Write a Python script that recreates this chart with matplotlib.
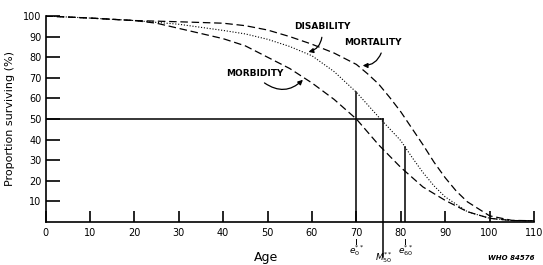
import matplotlib.pyplot as plt
from matplotlib.lines import Line2D
from matplotlib.transforms import blended_transform_factory

# Survival curves (age in years, % surviving)
ages_mort = [0, 10, 20, 30, 40, 45, 50, 55, 60, 65, 70, 72.5, 75, 77.5, 80, 82.5, 85, 87.5, 90, 92.5, 95, 100, 105, 110]
mortality = [100, 99, 97.8, 97.2, 96.5, 95.3, 93.2, 90, 86.3, 82, 76.5, 72, 67, 60.5, 53.5, 45.5, 37.5, 29, 21.5, 15, 9.8, 3, 0.8, 0.6]

ages_dis = [0, 10, 20, 30, 40, 45, 50, 55, 60, 65, 70, 75, 80, 82.5, 85, 87.5, 90, 95, 100, 105, 110]
disability = [100, 99, 97.8, 96, 93, 91.3, 88.7, 85.2, 80.7, 73, 63, 51, 39.5, 31.5, 24, 17.5, 12.2, 5, 1.8, 0.7, 0.6]

ages_morb = [0, 10, 20, 25, 30, 35, 40, 45, 50, 55, 60, 65, 70, 75, 80, 85, 90, 95, 100, 105, 110]
morbidity = [100, 99, 97.8, 96.5, 94, 91.5, 89, 85.5, 80, 74.5, 67.5, 59.5, 50, 37.5, 26.5, 17, 10.5, 5, 1.8, 0.7, 0.6]

# Reference markers
e0_age, e0_top = 70, 63
m50_age, m50_level = 76, 50
e60_age, e60_top = 81, 36.5

xticks = list(range(0, 111, 10))
yticks = list(range(10, 101, 10))

fig = plt.figure(figsize=(5.43, 2.65), dpi=100)
ax = fig.add_axes([45.5 / 543, 43 / 265, 488.5 / 543, 206 / 265])

ax.plot(ages_mort, mortality, color="black", lw=0.9, dashes=(6, 3))
ax.plot(ages_dis, disability, color="black", lw=0.8, dashes=(1, 1.6))
ax.plot(ages_morb, morbidity, color="black", lw=0.9, dashes=(6, 3))

# Vertical and horizontal marker lines
ax.plot([e0_age, e0_age], [0, e0_top], color="black", lw=1.1)
ax.plot([e60_age, e60_age], [0, e60_top], color="black", lw=1.1)
ax.plot([0, m50_age], [m50_level, m50_level], color="black", lw=1.1)
ax.plot([m50_age, m50_age], [-17, m50_level], color="black", lw=1.1, clip_on=False)

ax.set_xlim(0, 110)
ax.set_ylim(0, 100)
for s in ["top", "right"]:
    ax.spines[s].set_visible(False)
ax.spines["left"].set_linewidth(1.2)
ax.spines["bottom"].set_linewidth(1.2)

ax.set_xticks(xticks)
ax.set_yticks(yticks)
ax.tick_params(axis="x", direction="in", length=8, width=1.2, labelsize=7, pad=4)
ax.tick_params(axis="y", direction="in", length=10, width=1.2, labelsize=7, pad=3)
ax.set_ylabel("Proportion surviving (%)", fontsize=8, labelpad=6)

# Curve labels with curved arrows
arrow = dict(arrowstyle="-|>", color="black", lw=0.9, mutation_scale=7)
ax.text(62.4, 95, "DISABILITY", fontsize=6.5, fontweight="bold", ha="center", va="center")
ax.annotate("", xy=(58.6, 82.3), xytext=(62.3, 91),
            arrowprops=dict(arrow, connectionstyle="arc3,rad=-0.4"))
ax.text(73.8, 87, "MORTALITY", fontsize=6.5, fontweight="bold", ha="center", va="center")
ax.annotate("", xy=(70.8, 76), xytext=(75.8, 83.3),
            arrowprops=dict(arrow, connectionstyle="arc3,rad=-0.4"))
ax.text(47.1, 72.3, "MORBIDITY", fontsize=6.5, fontweight="bold", ha="center", va="center")
ax.annotate("", xy=(58.4, 70), xytext=(48.8, 68.3),
            arrowprops=dict(arrow, connectionstyle="arc3,rad=0.45"))

# Labels below the axis
tr = blended_transform_factory(ax.transData, fig.transFigure)
for age, lab in [(e0_age, r"$e_0^{**}$"), (e60_age, r"$e_{60}^{**}$")]:
    ax.add_line(Line2D([age, age], [21 / 265, 26 / 265], transform=tr, color="black",
                       lw=0.7, clip_on=False))
    ax.text(age, 14 / 265, lab, transform=tr, fontsize=6.5, ha="center", va="center")
ax.text(m50_age + 0.3, 7 / 265, r"$M_{50}^{**}$", transform=tr, fontsize=6.5,
        ha="center", va="center")

fig.text(266 / 543, 7 / 265, "Age", fontsize=9, ha="center", va="center")
fig.text(535 / 543, 7 / 265, "WHO 84576", fontsize=5, style="italic", fontweight="bold",
         ha="right", va="center")

fig.savefig("out.png", dpi=100)
